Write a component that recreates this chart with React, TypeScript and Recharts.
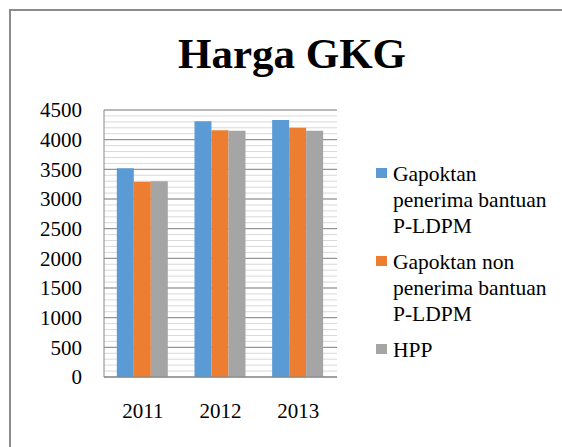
import React from "react";
import { BarChart, Bar, XAxis, YAxis, CartesianGrid, Legend } from "recharts";

const years = ["2011", "2012", "2013"];
const penerima = [3520, 4310, 4330];
const nonPenerima = [3290, 4160, 4200];
const hpp = [3300, 4150, 4150];
const yTicks = [0, 500, 1000, 1500, 2000, 2500, 3000, 3500, 4000, 4500];
const minorTicks = Array.from({ length: 46 }, (_, i) => i * 100);
const seriesNames = [
  "Gapoktan penerima bantuan P-LDPM",
  "Gapoktan non penerima bantuan P-LDPM",
  "HPP",
];
const colors = ["#5b9bd5", "#ed7d31", "#a5a5a5"];

const data = years.map((y, i) => ({
  year: y,
  a: penerima[i],
  b: nonPenerima[i],
  c: hpp[i],
}));

const FONT = "'Liberation Serif', 'Times New Roman', serif";

const renderLegend = (props: any) => {
  const { payload } = props;
  return (
    <div style={{ fontFamily: FONT, fontSize: 21.5, lineHeight: "26px", color: "#000" }}>
      {payload.map((p: any, i: number) => (
        <div key={i} style={{ display: "flex", alignItems: "flex-start", marginBottom: 10 }}>
          <div style={{ width: 11, height: 10, background: p.color, marginTop: 7, marginRight: 6, flexShrink: 0 }} />
          <div style={{ width: 162, fontFamily: FONT }}>{p.value}</div>
        </div>
      ))}
    </div>
  );
};

export default function App() {
  return (
    <div style={{ position: "absolute", left: 0, top: 0, width: 562, height: 447, overflow: "hidden", background: "#fff" }}>
      <div style={{ position: "absolute", left: 9, top: 9, width: 700, height: 700, borderLeft: "2px solid #8c8c8c", borderTop: "2px solid #8c8c8c", boxSizing: "border-box" }} />
      <div style={{ position: "absolute", left: 0, top: 28.5, width: 584, textAlign: "center", fontFamily: FONT, fontWeight: "bold", fontSize: 43, lineHeight: "50px", color: "#000" }}>
        Harga GKG
      </div>
      <BarChart
        width={562}
        height={447}
        data={data}
        margin={{ top: 110, right: 225, bottom: 40, left: 24 }}
        barCategoryGap="16.5%"
        barGap={0}
        style={{ position: "absolute", left: 0, top: 0 }}
      >
        <CartesianGrid vertical={false} horizontalValues={minorTicks} stroke="#d9d9d9" />
        <CartesianGrid vertical={false} stroke="#868686" />
        <XAxis
          dataKey="year"
          height={30}
          tickLine={false}
          tickSize={0}
          tickMargin={26}
          axisLine={{ stroke: "#868686" }}
          tick={{ fill: "#000", fontFamily: FONT, fontSize: 21 }}
        />
        <YAxis
          domain={[0, 4500]}
          ticks={yTicks}
          interval={0}
          width={80}
          tickLine={false}
          tickSize={0}
          tickMargin={22}
          axisLine={{ stroke: "#868686" }}
          tick={{ fill: "#000", fontFamily: FONT, fontSize: 21 }}
        />
        <Legend
          layout="vertical"
          align="center"
          verticalAlign="middle"
          itemSorter="dataKey"
          content={renderLegend}
          wrapperStyle={{ position: "absolute", left: 376, top: 160.7, width: 185 }}
        />
        <Bar dataKey="a" name={seriesNames[0]} fill={colors[0]} isAnimationActive={false} />
        <Bar dataKey="b" name={seriesNames[1]} fill={colors[1]} isAnimationActive={false} />
        <Bar dataKey="c" name={seriesNames[2]} fill={colors[2]} isAnimationActive={false} />
      </BarChart>
    </div>
  );
}
